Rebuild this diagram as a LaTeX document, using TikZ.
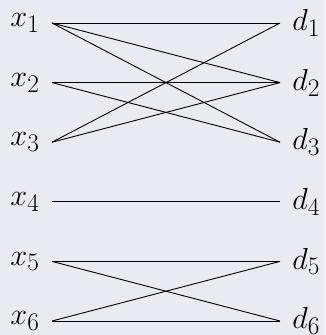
\documentclass[tikz,border=0pt]{standalone}
\usepackage{amsmath}
\usepackage{tikz}
\usetikzlibrary{
	positioning,
	calc
}
\usepackage{xcolor}
\definecolor{bgpanel}{HTML}{EAEAF2}

\begin{document}
\begin{tikzpicture}[
		x=1pt,
		y=-1pt,
		lbl/.style={
			inner xsep=10pt,
			inner ysep=0pt,
			font=\Huge,
			scale=1.22,
			transform shape
		},
		link/.style={
			line width=0.9pt
		}
		]
		
		% Background
		\fill[bgpanel] (0,0) rectangle (325,335);
		\useasboundingbox (0,0) rectangle (325,335);
		
		% Inputs
		\foreach \i in {1,...,6}
		\node[lbl, anchor=east] (x\i) at (52,{23+59.6*(\i-1)}) {$x_{\i}$};
		
		% Outputs
		\foreach \i in {1,...,6}
		\node[lbl, anchor=west] (d\i) at (280,{23+59.6*(\i-1)}) {$d_{\i}$};
		
		% Connections
		\foreach \a/\b in {1/1,1/2,1/3,2/2,2/3,3/1,3/2,4/4,5/5,5/6,6/5,6/6}
		\draw[link] (x\a.east) -- (d\b.west);
		
	\end{tikzpicture}
\end{document}
